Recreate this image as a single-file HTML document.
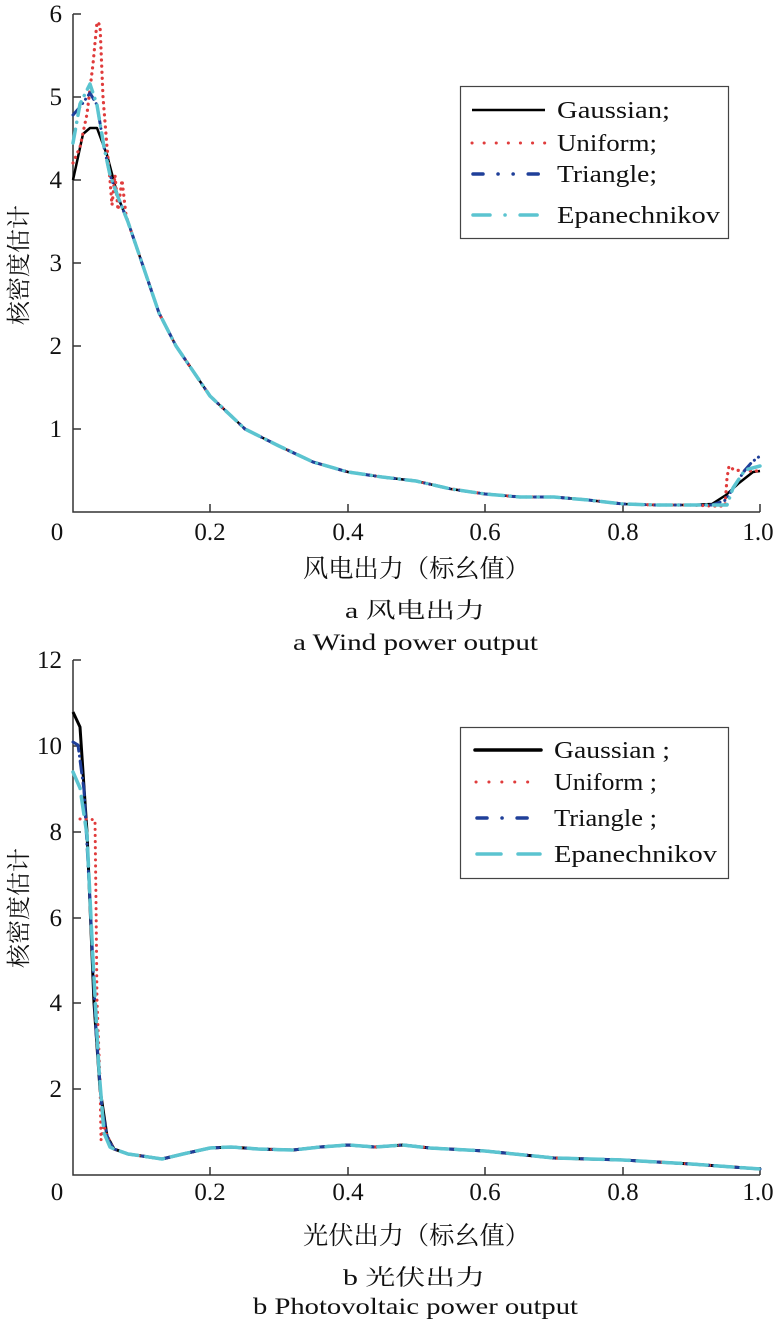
<!DOCTYPE html>
<html><head><meta charset="utf-8"><style>
html,body{margin:0;padding:0;background:#fff;}
svg{display:block;}
text{font-family:"Liberation Serif","Noto Serif CJK SC",serif;fill:#111;}
</style></head><body>
<svg width="780" height="1327" viewBox="0 0 780 1327" xmlns="http://www.w3.org/2000/svg">
<!-- ===== Chart a ===== -->
<g stroke="#333" stroke-width="1.5" fill="none">
<path d="M73,14 V512 H760"/>
<path d="M73,14 h8 M73,97 h8 M73,180 h8 M73,263 h8 M73,346 h8 M73,429 h8"/>
<path d="M210,512 v-8 M348,512 v-8 M485,512 v-8 M623,512 v-8 M760,512 v-8"/>
</g>
<g font-size="25" text-anchor="end">
<text x="62" y="22">6</text><text x="62" y="105">5</text><text x="62" y="188">4</text>
<text x="62" y="271">3</text><text x="62" y="354">2</text><text x="62" y="437">1</text>
</g>
<g font-size="25" text-anchor="middle">
<text x="57" y="540">0</text><text x="210" y="540">0.2</text><text x="348" y="540">0.4</text>
<text x="485" y="540">0.6</text><text x="623" y="540">0.8</text><text x="758" y="540">1.0</text>
</g>
<text font-size="24" transform="translate(27,265) rotate(-90)" text-anchor="middle">核密度估计</text>
<text font-size="25" x="303" y="577" textLength="227" lengthAdjust="spacingAndGlyphs">风电出力（标幺值）</text>
<text font-size="22" x="345" y="618" textLength="140" lengthAdjust="spacingAndGlyphs">a  风电出力</text>
<text font-size="23" x="293" y="650" textLength="245" lengthAdjust="spacingAndGlyphs">a  Wind power output</text>

<g fill="none" stroke-linejoin="round">
<polyline stroke="#000" stroke-width="2.5" points="73,180 83,134 90,128 97,128 107,155 118,197 128,222 142,263 159,313 176,346 210,396 245,429 279,446 313,462 348,472 382,477 416,481 451,489 485,494 520,497 554,497 588,500 623,504 657,505 691,505 712,504 726,495 739,483 753,472 760,471"/>
<polyline stroke="#e03c3c" stroke-width="3.2" stroke-linecap="round" stroke-dasharray="0.1 6" points="73,163 80,147 87,114 93,64 97,22 100,25 103,97 107,147 110,180 112,205 115,175 118,210 122,180 126,215 128,222 142,263 159,313 176,346 210,396 245,429 279,446 313,462 348,472 382,477 416,481 451,489 485,494 520,497 554,497 588,500 623,504 657,505 691,505 712,506 725,506 727,478 729,466 734,470 745,471 760,471"/>
<polyline stroke="#1f3f99" stroke-width="3" stroke-linecap="round" stroke-dasharray="10 5 0.1 5 0.1 5" points="73,115 80,107 90,93 97,105 104,147 110,175 118,197 128,222 142,263 159,313 176,346 210,396 245,429 279,446 313,462 348,472 382,477 416,481 451,489 485,494 520,497 554,497 588,500 623,504 657,505 691,505 712,505 726,500 735,485 745,470 752,462 760,456"/>
<polyline stroke="#5bc4d0" stroke-width="3.5" stroke-linecap="round" stroke-dasharray="14 7 0.1 7" points="73,143 80,104 90,84 97,105 104,147 110,175 118,197 128,222 142,263 159,313 176,346 210,396 245,429 279,446 313,462 348,472 382,477 416,481 451,489 485,494 520,497 554,497 588,500 623,504 657,505 691,505 712,505 727,505 733,488 745,470 760,466"/>
</g>
<rect x="460.5" y="86.5" width="268" height="152" fill="#fff" stroke="#444" stroke-width="1.2"/>
<g fill="none" stroke-linecap="round">
<line x1="472" y1="110" x2="545" y2="110" stroke="#000" stroke-width="2.5" stroke-linecap="butt"/>
<line x1="472" y1="143" x2="545" y2="143" stroke="#e03c3c" stroke-width="3" stroke-dasharray="0.1 12"/>
<line x1="473" y1="174" x2="544" y2="174" stroke="#1f3f99" stroke-width="3.5" stroke-dasharray="10 15 0.1 15 0.1 15"/>
<line x1="473" y1="215" x2="544" y2="215" stroke="#5bc4d0" stroke-width="3.5" stroke-dasharray="17 15 0.1 15"/>
</g>
<g font-size="24">
<text x="557" y="118" textLength="113" lengthAdjust="spacingAndGlyphs">Gaussian;</text>
<text x="557" y="151" textLength="100" lengthAdjust="spacingAndGlyphs">Uniform;</text>
<text x="557" y="182" textLength="100" lengthAdjust="spacingAndGlyphs">Triangle;</text>
<text x="557" y="223" textLength="163" lengthAdjust="spacingAndGlyphs">Epanechnikov</text></g>

<!-- ===== Chart b ===== -->
<g stroke="#333" stroke-width="1.5" fill="none">
<path d="M73,660 V1175 H760"/>
<path d="M73,660 h8 M73,746 h8 M73,832 h8 M73,918 h8 M73,1003 h8 M73,1089 h8"/>
<path d="M210,1175 v-8 M348,1175 v-8 M485,1175 v-8 M623,1175 v-8 M760,1175 v-8"/>
</g>
<g font-size="25" text-anchor="end">
<text x="62" y="668">12</text><text x="62" y="754">10</text><text x="62" y="840">8</text>
<text x="62" y="926">6</text><text x="62" y="1011">4</text><text x="62" y="1097">2</text>
</g>
<g font-size="25" text-anchor="middle">
<text x="57" y="1200">0</text><text x="210" y="1200">0.2</text><text x="348" y="1200">0.4</text>
<text x="485" y="1200">0.6</text><text x="623" y="1200">0.8</text><text x="758" y="1200">1.0</text>
</g>
<text font-size="24" transform="translate(27,908) rotate(-90)" text-anchor="middle">核密度估计</text>
<text font-size="25" x="303" y="1244" textLength="227" lengthAdjust="spacingAndGlyphs">光伏出力（标幺值）</text>
<text font-size="22" x="343" y="1285" textLength="142" lengthAdjust="spacingAndGlyphs">b  光伏出力</text>
<text font-size="23" x="253" y="1314" textLength="325" lengthAdjust="spacingAndGlyphs">b  Photovoltaic power output</text>

<g fill="none" stroke-linejoin="round">
<polyline stroke="#000" stroke-width="3" points="73,712 80,727 87,832 94,1003 100,1089 107,1136 114,1149 128,1154 142,1156 162,1159 183,1154 210,1148 231,1147 258,1149 293,1150 320,1147 348,1145 375,1147 403,1145 430,1148 485,1151 554,1158 623,1160 691,1164 760,1169"/>
<polyline stroke="#e03c3c" stroke-width="3" stroke-linecap="round" stroke-dasharray="0.1 6" points="80,819 89,819 95,820 96,900 97,1000 100,1080 101,1140 104,1125 107,1136 114,1149 128,1154 142,1156 162,1159 183,1154 210,1148 231,1147 258,1149 293,1150 320,1147 348,1145 375,1147 403,1145 430,1148 485,1151 554,1158 623,1160 691,1164 760,1169"/>
<polyline stroke="#1f3f99" stroke-width="3" stroke-linecap="round" stroke-dasharray="12 5 0.1 5" points="73,742 78,745 84,790 90,900 96,1030 102,1110 108,1140 114,1149 128,1154 142,1156 162,1159 183,1154 210,1148 231,1147 258,1149 293,1150 320,1147 348,1145 375,1147 403,1145 430,1148 485,1151 554,1158 623,1160 691,1164 760,1169"/>
<polyline stroke="#5bc4d0" stroke-width="3.5" stroke-linecap="round" stroke-dasharray="18 8" points="73,772 80,788 87,835 93,960 99,1070 104,1133 110,1147 114,1149 128,1154 142,1156 162,1159 183,1154 210,1148 231,1147 258,1149 293,1150 320,1147 348,1145 375,1147 403,1145 430,1148 485,1151 554,1158 623,1160 691,1164 760,1169"/>
</g>
<rect x="460.5" y="727.5" width="268" height="151" fill="#fff" stroke="#444" stroke-width="1.2"/>
<g fill="none" stroke-linecap="round">
<line x1="475" y1="750" x2="541" y2="750" stroke="#000" stroke-width="3.5"/>
<line x1="476" y1="782" x2="540" y2="782" stroke="#e03c3c" stroke-width="3" stroke-dasharray="0.1 12.8"/>
<line x1="477" y1="818" x2="540" y2="818" stroke="#1f3f99" stroke-width="3.5" stroke-dasharray="10 15 0.1 15"/>
<line x1="477" y1="854" x2="540" y2="854" stroke="#5bc4d0" stroke-width="3.5" stroke-dasharray="24 17"/>
</g>
<g font-size="24">
<text x="554" y="758" textLength="116" lengthAdjust="spacingAndGlyphs">Gaussian ;</text>
<text x="554" y="790" textLength="103" lengthAdjust="spacingAndGlyphs">Uniform ;</text>
<text x="554" y="826" textLength="103" lengthAdjust="spacingAndGlyphs">Triangle ;</text>
<text x="554" y="862" textLength="163" lengthAdjust="spacingAndGlyphs">Epanechnikov</text></g>
</svg>
</body></html>
